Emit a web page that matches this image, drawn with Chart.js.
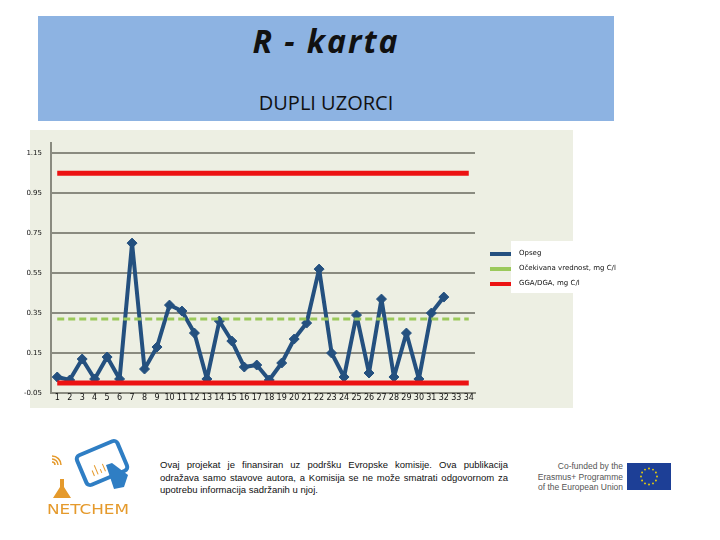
<!DOCTYPE html>
<html>
<head>
<meta charset="utf-8">
<script src="https://cdn.jsdelivr.net/npm/chart.js@4.4.0/dist/chart.umd.min.js"></script>
<style>
  html, body { margin: 0; padding: 0; background: #fff; }
  body { width: 720px; height: 540px; position: relative; overflow: hidden; font-family: "DejaVu Sans", sans-serif; }
  #titleBox { position: absolute; left: 38px; top: 16px; width: 576px; height: 105px; background: #8DB3E2; text-align: center; color: #111; font-family: "Open Sans", sans-serif; }
  #titleBox .main { position: absolute; left: 0; right: 0; top: 5px; font-size: 32px; font-weight: bold; font-style: italic; letter-spacing: 2px; line-height: 40px; }
  #titleBox .sub { position: absolute; left: 0; right: 0; top: 74px; font-size: 20px; line-height: 26px; }
  #plotBg { position: absolute; left: 30px; top: 130px; width: 543px; height: 278px; background: #EDEFE3; }
  #chartWrap { position: absolute; left: 20px; top: 130px; width: 610px; height: 280px; }
  #legendBox { position: absolute; left: 511px; top: 241px; width: 111px; height: 52px; background: #fff; }
  .lg-line { position: absolute; left: 490px; width: 21px; height: 4px; }
  .lg-text { position: absolute; left: 519px; font: 7px "DejaVu Sans", sans-serif; color: #111; line-height: 10px; white-space: nowrap; }
  #note { position: absolute; left: 160px; top: 459px; width: 348px; font: 9.5px "Liberation Sans", sans-serif; line-height: 12.5px; color: #111; }
  #note div { text-align: justify; text-align-last: justify; }
  #note div.last { text-align-last: left; }
  #eu { position: absolute; left: 515px; top: 461px; width: 108px; text-align: right; font: 8.5px "Liberation Sans", sans-serif; line-height: 10.5px; color: #555; }
  #flag { position: absolute; left: 627px; top: 463px; }
  #logo { position: absolute; left: 40px; top: 435px; }
</style>
</head>
<body>
<div id="titleBox">
  <div class="main">R - karta</div>
  <div class="sub">DUPLI UZORCI</div>
</div>
<div id="plotBg"></div>
<div id="chartWrap"><canvas id="chart" width="610" height="280"></canvas></div>
<div id="legendBox"></div>
<div id="legend"></div>

<canvas id="logo" width="100" height="85"></canvas>
<div id="note">
  <div>Ovaj projekat je finansiran uz podršku Evropske komisije. Ova publikacija</div>
  <div>odražava samo stavove autora, a Komisija se ne može smatrati odgovornom za</div>
  <div class="last">upotrebu informacija sadržanih u njoj.</div>
</div>
<div id="eu">Co-funded by the<br>Erasmus+ Programme<br>of the European Union</div>
<canvas id="flag" width="44" height="27"></canvas>

<script>
// x categories (sample number)
const categories = ['1', '2', '3', '4', '5', '6', '7', '8', '9', '10', '11', '12', '13', '14', '15', '16', '17',
                    '18', '19', '20', '21', '22', '23', '24', '25', '26', '27', '28', '29', '30', '31', '32', '33', '34'];

// y axis tick labels
const yTicks = [-0.05, 0.15, 0.35, 0.55, 0.75, 0.95, 1.15];

// Opseg (range of duplicate samples)
const opseg = [0.03, 0.015, 0.12, 0.02, 0.13, 0.02, 0.70, 0.07, 0.18, 0.39, 0.36, 0.25, 0.02, 0.31, 0.21, 0.08,
               0.09, 0.015, 0.10, 0.22, 0.30, 0.57, 0.15, 0.03, 0.34, 0.05, 0.42, 0.03, 0.25, 0.02, 0.35, 0.43];

// Očekivana vrednost and control limits (GGA / DGA)
const expectedValue = 0.32;
const upperLimit = 1.05;
const lowerLimit = 0;

const BLUE  = '#24507F';
const GREEN = '#9BC95B';
const RED   = '#EC1212';
const GRID  = '#8A8B80';

const tickFont = { family: 'DejaVu Sans', size: 7 };

const chart = new Chart(document.getElementById('chart'), {
  type: 'line',
  data: {
    labels: categories,
    datasets: [
      {
        label: 'Opseg',
        data: opseg,
        borderColor: BLUE,
        backgroundColor: BLUE,
        borderWidth: 4,
        borderJoinStyle: 'round',
        borderCapStyle: 'round',
        pointStyle: 'rectRot',
        pointRadius: 5,
        pointBorderWidth: 1,
        tension: 0,
        order: 3,
      },
      {
        label: 'Očekivana vrednost, mg C/l',
        data: categories.map(() => expectedValue),
        borderColor: GREEN,
        backgroundColor: GREEN,
        borderWidth: 3,
        borderDash: [7, 4],
        pointRadius: 0,
        order: 2,
      },
      {
        label: 'GGA/DGA, mg C/l',
        data: categories.map(() => upperLimit),
        borderColor: RED,
        backgroundColor: RED,
        borderWidth: 5,
        pointRadius: 0,
        order: 1,
      },
      {
        label: 'GGA/DGA, mg C/l',
        data: categories.map(() => lowerLimit),
        borderColor: RED,
        backgroundColor: RED,
        borderWidth: 5,
        pointRadius: 0,
        order: 1,
        hideInLegend: true,
      },
    ],
  },
  options: {
    responsive: false,
    animation: false,
    layout: { padding: { top: 12, right: 155, left: 0, bottom: 0 } },
    plugins: { legend: { display: false }, tooltip: { enabled: false } },
    scales: {
      x: {
        offset: true,
        grid: { display: false, drawTicks: false, tickLength: 0 },
        border: { color: GRID, width: 2 },
        ticks: { color: '#111', font: { family: 'DejaVu Sans', size: 8 }, autoSkip: false, maxRotation: 0, padding: 0 },
        afterFit: s => { s.height = 17; },
      },
      y: {
        min: -0.05,
        max: 1.2,
        afterBuildTicks: s => { s.ticks = yTicks.map(v => ({ value: v })); },
        afterFit: s => { s.width = 31; },
        grid: { color: GRID, lineWidth: 2, drawTicks: false },
        border: { color: GRID, width: 2 },
        ticks: { color: '#111', font: tickFont, padding: 9, callback: v => v.toFixed(2) },
      },
    },
  },
});

// Legend (HTML, positioned like the original)
const legendY = [254, 269, 283.5];
const legendEl = document.getElementById('legend');
chart.data.datasets.filter(d => !d.hideInLegend).forEach((d, i) => {
  const line = document.createElement('div');
  line.className = 'lg-line';
  line.style.top = (legendY[i] - 2) + 'px';
  line.style.background = d.borderColor;
  legendEl.appendChild(line);
  const txt = document.createElement('div');
  txt.className = 'lg-text';
  txt.style.top = (legendY[i] - 6) + 'px';
  txt.textContent = d.label;
  legendEl.appendChild(txt);
});

// EU flag
(function drawFlag() {
  const ctx = document.getElementById('flag').getContext('2d');
  ctx.fillStyle = '#1D3F96';
  ctx.fillRect(0, 0, 44, 27);
  ctx.fillStyle = '#F5D800';
  for (let i = 0; i < 12; i++) {
    const a = i * Math.PI / 6;
    ctx.beginPath();
    ctx.arc(22 + 8 * Math.cos(a), 13.5 + 8 * Math.sin(a), 0.9, 0, Math.PI * 2);
    ctx.fill();
  }
})();

// NETCHEM logo (simplified)
(function drawLogo() {
  const ctx = document.getElementById('logo').getContext('2d');
  const ORANGE = '#E59A2C';
  const LBLUE = '#2F7EC4';

  // tablet
  ctx.save();
  ctx.translate(62, 28);
  ctx.rotate(-0.4);
  ctx.strokeStyle = LBLUE;
  ctx.lineWidth = 4;
  ctx.beginPath();
  ctx.roundRect(-22, -16, 44, 32, 4);
  ctx.stroke();
  ctx.strokeStyle = ORANGE;
  ctx.lineWidth = 1;
  [[-12, 6], [-8, 10], [-4, 4], [0, 8]].forEach(([x, h]) => {
    ctx.beginPath();
    ctx.moveTo(x, 9);
    ctx.lineTo(x, 9 - h);
    ctx.stroke();
  });
  ctx.restore();

  // hand
  ctx.fillStyle = LBLUE;
  ctx.beginPath();
  ctx.moveTo(66, 30);
  ctx.lineTo(72, 28);
  ctx.lineTo(88, 40);
  ctx.lineTo(84, 52);
  ctx.lineTo(74, 54);
  ctx.closePath();
  ctx.fill();

  // wifi arcs
  ctx.strokeStyle = ORANGE;
  ctx.lineWidth = 1.5;
  for (let r = 3; r <= 9; r += 3) {
    ctx.beginPath();
    ctx.arc(12, 30, r, -Math.PI / 2, 0);
    ctx.stroke();
  }

  // flask
  ctx.fillStyle = ORANGE;
  ctx.beginPath();
  ctx.moveTo(20, 44);
  ctx.lineTo(24, 44);
  ctx.lineTo(24, 52);
  ctx.lineTo(31, 63);
  ctx.lineTo(13, 63);
  ctx.lineTo(20, 52);
  ctx.closePath();
  ctx.fill();

  // name
  ctx.font = '14px "DejaVu Sans"';
  const w = ctx.measureText('NETCHEM').width;
  ctx.save();
  ctx.translate(7, 79);
  ctx.scale(82 / w, 1);
  ctx.fillText('NETCHEM', 0, 0);
  ctx.restore();
})();
</script>
</body>
</html>
